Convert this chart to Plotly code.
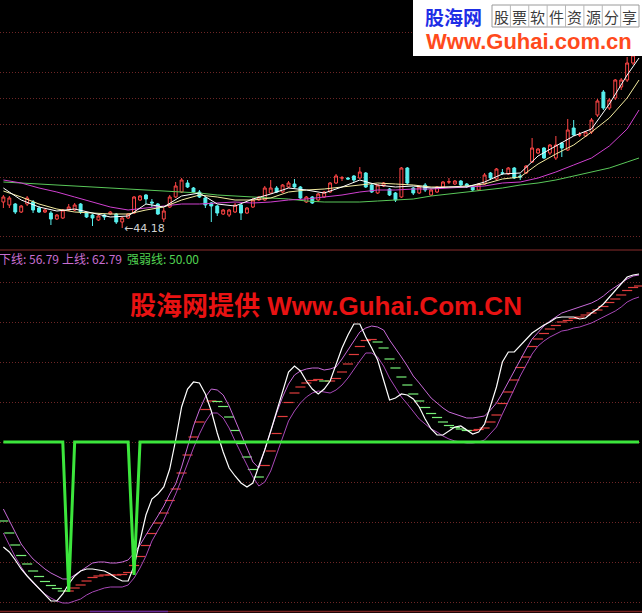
import plotly.graph_objects as go

W, H = 642, 613

# ---------------- data: price panel ----------------
bar_idx = list(range(107))
open_p = [46.78, 46.48, 46.58, 45.78, 46.58, 46.78, 46.18, 45.78, 45.68, 45.08,
          45.18, 45.98, 45.98, 46.58, 45.68, 45.48, 44.98, 45.48, 45.58, 45.58,
          44.78, 45.18, 45.68, 46.98, 47.48, 46.78, 46.58, 45.08, 46.28, 47.28,
          47.78, 48.68, 48.18, 47.78, 47.18, 46.68, 46.38, 45.58, 45.48, 45.78,
          46.48, 45.68, 46.28, 46.98, 46.98, 47.68, 48.18, 47.78, 48.28, 48.58,
          48.28, 46.78, 47.28, 46.98, 47.28, 47.78, 48.68, 49.18, 49.18, 49.38,
          49.18, 49.68, 48.48, 47.68, 48.38, 48.08, 47.68, 47.28, 50.18, 48.18,
          47.68, 48.48, 47.48, 47.78, 48.28, 48.78, 48.58, 48.88, 48.58, 48.28,
          47.98, 48.58, 49.68, 49.08, 49.70, 49.58, 50.18, 49.38, 49.68, 50.78,
          51.68, 52.18, 51.68, 51.18, 52.68, 51.98, 54.18, 53.48, 53.38, 53.78,
          55.48, 57.78, 56.18, 57.18, 58.28, 58.98, 60.68]
high_p = [47.48, 47.38, 46.68, 46.48, 47.38, 46.98, 46.38, 46.08, 45.88, 45.58,
          46.08, 46.58, 46.68, 46.68, 45.78, 45.58, 45.48, 45.58, 45.88, 45.68,
          45.28, 45.68, 47.38, 47.48, 47.58, 47.08, 46.68, 46.18, 47.48, 48.78,
          49.18, 48.98, 48.28, 47.98, 47.28, 46.78, 46.48, 46.08, 46.08, 46.68,
          46.58, 46.28, 47.18, 47.38, 48.38, 48.98, 48.38, 48.58, 48.88, 49.08,
          48.38, 47.38, 47.38, 47.68, 47.88, 48.78, 49.58, 49.38, 49.28, 49.48,
          50.28, 49.78, 48.58, 48.58, 48.78, 48.18, 47.78, 50.28, 50.28, 48.28,
          48.38, 48.68, 48.08, 48.38, 48.88, 49.18, 48.98, 48.98, 48.68, 48.38,
          48.68, 49.68, 49.78, 50.18, 50.08, 50.28, 50.28, 49.58, 50.48, 53.18,
          52.18, 52.28, 52.58, 53.38, 52.78, 55.08, 54.98, 53.78, 53.88, 55.18,
          57.08, 57.98, 57.18, 59.08, 59.18, 61.28, 62.48]
low_p = [46.18, 46.18, 45.58, 45.68, 46.38, 45.68, 45.68, 45.68, 44.48, 44.98,
         45.08, 45.88, 45.88, 45.58, 45.18, 44.38, 44.88, 44.98, 45.48, 44.58,
         44.18, 45.08, 45.58, 46.88, 46.58, 46.28, 45.48, 44.78, 46.18, 47.18,
         47.68, 48.18, 47.68, 47.18, 46.18, 44.78, 45.38, 45.48, 45.28, 45.68,
         44.98, 45.58, 46.18, 46.88, 46.88, 47.58, 47.68, 47.68, 48.18, 48.18,
         47.08, 46.68, 46.58, 46.78, 47.18, 47.68, 48.58, 48.88, 48.98, 48.78,
         49.08, 48.18, 47.68, 47.58, 48.28, 47.38, 46.78, 47.18, 48.48, 47.48,
         47.58, 47.78, 47.38, 47.68, 48.18, 48.58, 48.48, 48.38, 48.18, 47.88,
         47.88, 48.48, 48.98, 48.98, 49.48, 49.48, 49.08, 48.98, 49.58, 50.68,
         51.58, 51.08, 51.48, 50.98, 51.28, 51.88, 53.38, 53.28, 53.28, 53.58,
         55.28, 55.98, 55.98, 56.98, 57.98, 58.78, 60.48]
close_p = [47.28, 47.18, 45.78, 46.38, 47.18, 45.98, 45.78, 45.98, 45.08, 45.48,
           45.98, 46.28, 46.48, 45.78, 45.28, 45.18, 45.38, 45.28, 45.78, 44.78,
           45.18, 45.58, 47.28, 47.38, 47.08, 46.68, 45.58, 45.88, 47.28, 48.38,
           48.98, 48.28, 47.78, 47.28, 46.48, 46.38, 45.68, 45.98, 45.98, 46.48,
           45.68, 46.18, 46.98, 47.28, 48.18, 48.18, 47.78, 48.48, 48.68, 48.28,
           47.18, 47.28, 46.68, 47.58, 47.78, 48.68, 49.38, 49.20, 49.08, 48.98,
           49.78, 48.28, 47.78, 48.48, 48.68, 47.48, 46.98, 50.18, 48.68, 47.68,
           48.28, 47.98, 47.98, 48.28, 48.78, 48.80, 48.88, 48.48, 48.38, 47.98,
           48.58, 49.48, 49.18, 50.08, 49.66, 50.18, 49.18, 49.28, 50.38, 52.18,
           52.08, 51.18, 52.48, 52.48, 52.18, 53.98, 53.48, 53.50, 53.78, 54.98,
           56.88, 56.18, 56.98, 58.98, 58.98, 60.68, 61.48]

ma_bars = [0, 3, 6, 9, 12, 15, 18, 21, 24, 27, 30, 33, 36, 39, 42, 45, 48, 51,
           54, 57, 60, 63, 66, 69, 72, 75, 78, 81, 84, 87, 90, 93, 96, 99, 102,
           105, 107]
ma5 = [48.18, 46.98, 46.28, 45.88, 46.08, 45.68, 45.28, 45.38, 46.58, 46.28,
       47.38, 47.68, 46.58, 46.38, 47.08, 47.58, 48.18, 47.98, 47.68, 48.28,
       48.98, 48.48, 48.28, 48.38, 48.18, 48.28, 48.28, 48.78, 49.58, 49.68,
       51.38, 52.38, 53.38, 54.08, 56.58, 59.48, 61.18]
ma10 = [47.88, 47.28, 46.58, 46.08, 45.78, 45.68, 45.58, 45.58, 45.98, 46.28,
        46.98, 47.48, 47.28, 46.98, 46.98, 47.18, 47.78, 47.98, 48.08, 48.28,
        48.48, 48.68, 48.58, 48.48, 48.28, 48.28, 48.38, 48.58, 49.08, 49.28,
        50.58, 51.58, 52.48, 53.78, 55.18, 57.18, 58.98]
ma30 = [48.98, 48.68, 48.18, 47.78, 47.28, 46.78, 46.28, 45.98, 46.18, 46.38,
        46.58, 46.58, 46.68, 46.78, 46.68, 46.78, 46.98, 47.08, 47.28, 47.48,
        47.78, 47.98, 47.98, 48.08, 48.08, 48.18, 48.28, 48.38, 48.68, 48.78,
        49.18, 49.78, 50.48, 51.18, 52.38, 54.08, 55.98]
ma60 = [48.78, 48.68, 48.58, 48.48, 48.38, 48.28, 48.18, 48.08, 47.98, 47.88,
        47.78, 47.68, 47.48, 47.38, 47.28, 47.18, 47.08, 46.88, 46.78, 46.78,
        46.78, 46.88, 46.98, 47.08, 47.38, 47.58, 47.78, 47.98, 48.18, 48.48,
        48.68, 48.98, 49.38, 49.78, 50.18, 50.78, 51.18]

price_grid = [63.7, 59.7, 57.1, 54.5, 49.2, 43.3]
low_bar = 20
low_value = 44.18

# ---------------- data: indicator panel ----------------
ind_bars = list(range(108))
fast_line = [23.75, 22.5, 20.5, 18.25, 16.5, 15, 13.25, 11.75, 10.25, 10.25,
             12, 14.5, 16.5, 17.75, 18.25, 18.25, 18, 17.75, 17, 16,
             15.25, 15.25, 19, 25.25, 31.75, 35.75, 37, 38.75, 43.25, 50.5,
             58.75, 63.25, 65, 64.75, 62, 57.75, 52.25, 47.5, 43.5, 41.5,
             39.75, 38.75, 39.75, 44, 48, 52.75, 57.5, 62.25, 67.5, 69,
             67.75, 65.25, 63.25, 62, 63.25, 65.25, 69.5, 73.5, 76.75, 79.5,
             79.5, 76.25, 73.5, 70.5, 65.5, 60.5, 61, 62, 61.75, 60.75,
             58.75, 55.75, 53.25, 51.75, 51.75, 52.75, 53.75, 54, 53, 52,
             52.5, 54.5, 59, 63.75, 70, 72.5, 72.5, 74, 75.75, 77.25,
             78.25, 79.25, 80, 81, 81.25, 81.25, 81.25, 80.75, 81, 82.25,
             83.25, 84.5, 86.25, 88, 89.75, 91.25, 91.75, 92.0]
upper_line = [33.25, 30.25, 27.25, 24.5, 22.5, 20.75, 19.5, 18.25, 17.25, 16.5,
              15.75, 15.75, 16.75, 17.75, 18.75, 19.75, 20, 20, 19.75, 19.75,
              20, 20.5, 22.25, 24.25, 26.75, 29, 31.5, 34, 37, 39.5,
              43.75, 48.75, 54, 58, 61.25, 63.25, 63, 61.75, 59, 55.5,
              52, 48.5, 45, 43.5, 48.25, 52.75, 57.25, 61.25, 64.5, 66.75,
              67.75, 68.25, 68.5, 68.5, 68, 68.25, 68.75, 70.75, 73, 75.5,
              77.5, 78.5, 79, 78.75, 78, 75.5, 73.5, 71.25, 69, 66.5,
              64.75, 62.75, 61, 59.75, 58.5, 57.5, 57, 56.5, 56, 56,
              56.25, 56.5, 58, 59.75, 62.25, 65, 67.75, 70.75, 73.25, 75.75,
              77.5, 79, 80.25, 81.25, 82.25, 82.75, 83.25, 83.75, 84.25, 84.75,
              85.5, 86.5, 87.75, 88.75, 89.75, 90.75, 91.5, 91.75]
lower_line = [27.25, 24.25, 21.25, 18.75, 16.5, 14.75, 13.25, 12, 11, 10.25,
              9.75, 9.75, 10.25, 10.75, 11.75, 12.5, 13, 13.5, 13.75, 13.75,
              13.75, 14.25, 16, 18.5, 21.5, 25.25, 28, 30.5, 33.75, 37,
              40.75, 44.75, 48.5, 52, 55, 57.25, 57.25, 56, 53.5, 50.25,
              47.25, 44, 41.25, 39, 40, 42.75, 47, 51.5, 55.25, 57.75,
              59.75, 61.25, 62.25, 62.75, 62.5, 62.25, 63, 64.25, 66, 68.25,
              70.25, 72.25, 72.25, 71.25, 69, 66, 63.5, 61.25, 59.5, 57.5,
              55.75, 54.5, 53.25, 52.5, 51.5, 50.75, 50.25, 50, 49.75, 49.75,
              50, 50.5, 52, 53.75, 57, 60, 63.25, 66.5, 69.25, 72,
              74, 75.25, 76.25, 77, 77.75, 78, 78.5, 78.75, 79.25, 79.75,
              80.5, 81.25, 82, 82.75, 83.75, 85, 85.75, 86.25]
strong_line = [50, 50, 50, 50, 50, 50, 50, 50, 50, 50, 50, 12.5,
               50, 50, 50, 50, 50, 50, 50, 50, 50, 50, 16.75, 50,
               50, 50, 50, 50, 50, 50, 50, 50, 50, 50, 50, 50,
               50, 50, 50, 50, 50, 50, 50, 50, 50, 50, 50, 50,
               50, 50, 50, 50, 50, 50, 50, 50, 50, 50, 50, 50,
               50, 50, 50, 50, 50, 50, 50, 50, 50, 50, 50, 50,
               50, 50, 50, 50, 50, 50, 50, 50, 50, 50, 50, 50,
               50, 50, 50, 50, 50, 50, 50, 50, 50, 50, 50, 50,
               50, 50, 50, 50, 50, 50, 50, 50, 50, 50, 50, 50]
ind_grid = [10, 20, 30, 40, 50, 60, 70, 80, 90]
label_lower, label_upper, label_strong = "56.79", "62.79", "50.00"

# ---------------- figure ----------------
SPLIT = 250
split_frac = 1 - SPLIT / H


def px(x):
    return x / W


def py(y):
    return 1 - y / H


fig = go.Figure()

# candles
fig.add_trace(go.Candlestick(
    x=bar_idx, open=open_p, high=high_p, low=low_p, close=close_p,
    xaxis="x", yaxis="y", whiskerwidth=0,
    increasing=dict(line=dict(color="#ff4646", width=1), fillcolor="#000000"),
    decreasing=dict(line=dict(color="#58f0ee", width=1), fillcolor="#58f0ee"),
    hoverinfo="skip"))

for vals, col in [(ma60, "#5ac85a"), (ma30, "#d040d0"), (ma10, "#f4eca0"), (ma5, "#ffffff")]:
    fig.add_trace(go.Scatter(x=ma_bars, y=vals, mode="lines", xaxis="x", yaxis="y",
                             line=dict(color=col, width=1), hoverinfo="skip"))

# indicator hatch dashes between the two bands
mid = [(u + l) / 2 for u, l in zip(upper_line, lower_line)]
rx, ry, gx, gy = [], [], [], []
for i in ind_bars:
    up = i > 0 and mid[i] >= mid[i - 1]
    xs, ys = (rx, ry) if up else (gx, gy)
    xs += [i - 0.85, i + 0.85, None]
    ys += [mid[i], mid[i], None]
fig.add_trace(go.Scatter(x=rx, y=ry, mode="lines", xaxis="x", yaxis="y2",
                         line=dict(color="#e03c3c", width=1.2), hoverinfo="skip"))
fig.add_trace(go.Scatter(x=gx, y=gy, mode="lines", xaxis="x", yaxis="y2",
                         line=dict(color="#78f078", width=1.2), hoverinfo="skip"))

fig.add_trace(go.Scatter(x=ind_bars, y=upper_line, mode="lines", xaxis="x", yaxis="y2",
                         line=dict(color="#c86ad8", width=1), hoverinfo="skip"))
fig.add_trace(go.Scatter(x=ind_bars, y=lower_line, mode="lines", xaxis="x", yaxis="y2",
                         line=dict(color="#a848b8", width=1), hoverinfo="skip"))
fig.add_trace(go.Scatter(x=ind_bars, y=fast_line, mode="lines", xaxis="x", yaxis="y2",
                         line=dict(color="#ffffff", width=1.2), hoverinfo="skip"))
fig.add_trace(go.Scatter(x=ind_bars, y=strong_line, mode="lines", xaxis="x", yaxis="y2",
                         line=dict(color="#3ce63c", width=3), hoverinfo="skip"))

grid_style = dict(showticklabels=False, ticks="", zeroline=False, showline=False,
                  showgrid=True, gridcolor="#6e2626", griddash="1px,2px", gridwidth=1)

fig.update_layout(
    width=W, height=H, autosize=False,
    margin=dict(l=0, r=0, t=0, b=0, pad=0),
    paper_bgcolor="#000000", plot_bgcolor="#000000",
    showlegend=False, hovermode=False,
    xaxis=dict(range=[-0.57, 107.5], visible=False, rangeslider=dict(visible=False),
               anchor="y2"),
    yaxis=dict(domain=[split_frac, 1], range=[41.98, 66.98], tickvals=price_grid,
               **grid_style),
    yaxis2=dict(domain=[0, split_frac], range=[7.25, 98], tickvals=ind_grid,
                **grid_style),
)

shapes = [
    dict(type="line", xref="paper", yref="paper", x0=0, x1=1, y0=py(250), y1=py(250),
         line=dict(color="#8a2c2c", width=1)),
    dict(type="line", xref="paper", yref="paper", x0=0, x1=1, y0=py(611.5), y1=py(611.5),
         line=dict(color="#7a2222", width=1.5)),
    dict(type="line", xref="paper", yref="paper", x0=px(90), x1=px(168), y0=py(611.5),
         y1=py(611.5), line=dict(color="#6a2a9a", width=1.5)),
    # watermark box
    dict(type="rect", xref="paper", yref="paper", x0=px(413), x1=1.01, y0=py(56), y1=1.01,
         fillcolor="#ffffff", line=dict(width=0), layer="above"),
    dict(type="rect", xref="paper", yref="paper", x0=px(492), x1=px(639), y0=py(27), y1=py(5),
         fillcolor="rgba(0,0,0,0)", line=dict(color="#9a9a9a", width=1), layer="above"),
]
cell_w = 147 / 8
for k in range(1, 8):
    xx = 492 + k * cell_w
    shapes.append(dict(type="line", xref="paper", yref="paper", x0=px(xx), x1=px(xx),
                       y0=py(27), y1=py(5), line=dict(color="#b8b8b8", width=1),
                       layer="above"))
fig.update_layout(shapes=shapes)

ann = []
CJK = "Noto Sans CJK SC"
LAT = "Liberation Sans, Noto Sans CJK SC"
ann.append(dict(x=low_bar, y=low_value, xref="x", yref="y", text="←44.18",
                xanchor="left", yanchor="middle", showarrow=False,
                font=dict(family="DejaVu Sans, Liberation Sans", size=11, color="#d0d0d0")))
ann.append(dict(x=px(-3), y=py(258), xref="paper", yref="paper",
                text="下线: " + label_lower, xanchor="left", yanchor="middle",
                showarrow=False, font=dict(family=CJK, size=12, color="#c86ed2")))
ann.append(dict(x=px(60), y=py(258), xref="paper", yref="paper",
                text="上线: " + label_upper, xanchor="left", yanchor="middle",
                showarrow=False, font=dict(family=CJK, size=12, color="#c86ed2")))
ann.append(dict(x=px(125), y=py(258), xref="paper", yref="paper",
                text="强弱线: " + label_strong, xanchor="left", yanchor="middle",
                showarrow=False, font=dict(family=CJK, size=12, color="#52d452")))
ann.append(dict(x=px(326), y=py(306), xref="paper", yref="paper",
                text="<b>股海网提供 Www.Guhai.Com.CN</b>", xanchor="center", yanchor="middle",
                showarrow=False, font=dict(family=LAT, size=26, color="#e81212")))
ann.append(dict(x=px(453), y=py(16), xref="paper", yref="paper",
                text="<b>股海网</b>", xanchor="center", yanchor="middle",
                showarrow=False, font=dict(family=CJK, size=19, color="#1e2ee6")))
for k, ch in enumerate("股票软件资源分享"):
    ann.append(dict(x=px(492 + (k + 0.5) * cell_w), y=py(16), xref="paper", yref="paper",
                    text=ch, xanchor="center", yanchor="middle", showarrow=False,
                    font=dict(family=CJK, size=15, color="#3c3c3c")))
ann.append(dict(x=px(529), y=py(41), xref="paper", yref="paper",
                text="<b>Www.Guhai.com.cn</b>", xanchor="center", yanchor="middle",
                showarrow=False, font=dict(family=LAT, size=22, color="#ff4a1c")))
fig.update_layout(annotations=ann)

fig.write_html("out.html", config={"displayModeBar": False, "staticPlot": True})

# remove the browser's default page margin so the figure fills the window
with open("out.html", "r", encoding="utf-8") as f:
    page = f.read()
page = page.replace("<head>", "<head><style>html,body{margin:0;padding:0;background:#000;"
                    "overflow:hidden}</style>", 1)
with open("out.html", "w", encoding="utf-8") as f:
    f.write(page)
